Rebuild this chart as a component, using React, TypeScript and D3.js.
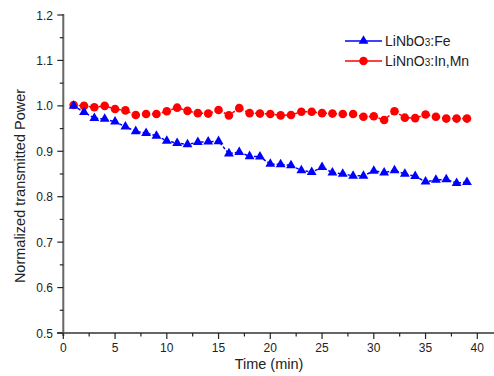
import React from "react";
import * as d3 from "d3";

const times = d3.range(1, 40);
const feValues = [1.0, 0.986, 0.973, 0.971, 0.965, 0.954, 0.944, 0.94, 0.934, 0.923, 0.918, 0.915, 0.92, 0.921, 0.922, 0.895, 0.898, 0.889, 0.888, 0.872, 0.871, 0.869, 0.858, 0.854, 0.865, 0.853, 0.85, 0.846, 0.846, 0.857, 0.853, 0.858, 0.85, 0.845, 0.833, 0.837, 0.838, 0.83, 0.832];
const inMnValues = [1.002, 1.0, 0.997, 1.0, 0.993, 0.99, 0.98, 0.982, 0.982, 0.988, 0.996, 0.989, 0.984, 0.983, 0.991, 0.979, 0.995, 0.984, 0.983, 0.982, 0.979, 0.98, 0.987, 0.987, 0.984, 0.983, 0.982, 0.982, 0.976, 0.977, 0.969, 0.988, 0.974, 0.973, 0.981, 0.976, 0.972, 0.972, 0.972];
const xTicks = [0, 5, 10, 15, 20, 25, 30, 35, 40];
const yTicks = [0.5, 0.6, 0.7, 0.8, 0.9, 1.0, 1.1, 1.2];

const W = 494, H = 376;
const FONT = "'Liberation Sans', Arial, sans-serif";

export default function App() {
  const x = d3.scaleLinear().domain([0, 40]).range([63.3, 477.3]);
  const y = d3.scaleLinear().domain([0.5, 1.2]).range([333, 15]);
  const xMinor = d3.range(0, 41.5, 2.5);
  const yMinor = d3.range(0.5, 1.2001, 0.05);
  const line = d3.line<number>().x((_, i) => x(times[i])).y((d) => y(d));
  const tri = d3.symbol().type(d3.symbolTriangle).size(42)();
  const axisColor = "#666";
  return (
    <svg width={W} height={H} style={{ position: "absolute", left: 0, top: 0, background: "#fff" }}>
      {/* axes */}
      <line x1={57} x2={494} y1={y(0.5)} y2={y(0.5)} stroke={axisColor} strokeWidth={2} />
      <line x1={x(0)} x2={x(0)} y1={14} y2={336} stroke={axisColor} strokeWidth={2} />
      {xMinor.map((t) => {
        const major = t % 5 === 0;
        return <line key={"xt" + t} x1={x(t)} x2={x(t)} y1={y(0.5)} y2={y(0.5) + (major ? 6 : 3.5)} stroke="#222" strokeWidth={1.2} />;
      })}
      {yMinor.map((v) => {
        const major = Math.abs(v * 10 - Math.round(v * 10)) < 1e-6;
        return <line key={"yt" + v.toFixed(2)} x1={x(0) - (major ? 6 : 3.5)} x2={x(0)} y1={y(v)} y2={y(v)} stroke="#222" strokeWidth={1.2} />;
      })}
      {xTicks.map((t) => (
        <text key={"xl" + t} x={x(t)} y={352} textAnchor="middle" fontFamily={FONT} fontSize={12} fill="#222">{t}</text>
      ))}
      {yTicks.map((v) => (
        <text key={"yl" + v} x={53} y={y(v) + 4.5} textAnchor="end" fontFamily={FONT} fontSize={12} fill="#222">{v.toFixed(1)}</text>
      ))}
      <text x={269} y={369} textAnchor="middle" fontFamily={FONT} fontSize={14.5} fill="#222">Time (min)</text>
      <text transform={`translate(25,186) rotate(-90)`} textAnchor="middle" fontFamily={FONT} fontSize={14.5} fill="#222">Normalized transmitted Power</text>

      {/* series */}
      <path d={line(inMnValues) || ""} fill="none" stroke="#ff0000" strokeWidth={1.5} strokeDasharray="3,2" />
      {inMnValues.map((v, i) => (
        <circle key={"r" + i} cx={x(times[i])} cy={y(v)} r={4.3} fill="#ff0000" />
      ))}
      <path d={line(feValues) || ""} fill="none" stroke="#0000ff" strokeWidth={1.5} strokeDasharray="3,2" />
      {feValues.map((v, i) => (
        <path key={"b" + i} d={tri || ""} transform={`translate(${x(times[i])},${y(v)})`} fill="#0000ff" />
      ))}

      {/* legend */}
      <line x1={345} x2={382} y1={41} y2={41} stroke="#0000ff" strokeWidth={1.5} />
      <path d={tri || ""} transform="translate(363.5,41)" fill="#0000ff" />
      <text x={385} y={46} fontFamily={FONT} fontSize={14} fill="#222">LiNbO<tspan fontSize={10}>3</tspan>:Fe</text>
      <line x1={345} x2={382} y1={61} y2={61} stroke="#ff0000" strokeWidth={1.5} />
      <circle cx={363.5} cy={61} r={4.3} fill="#ff0000" />
      <text x={385} y={66} fontFamily={FONT} fontSize={14} fill="#222">LiNnO<tspan fontSize={10}>3</tspan>:In,Mn</text>
    </svg>
  );
}
